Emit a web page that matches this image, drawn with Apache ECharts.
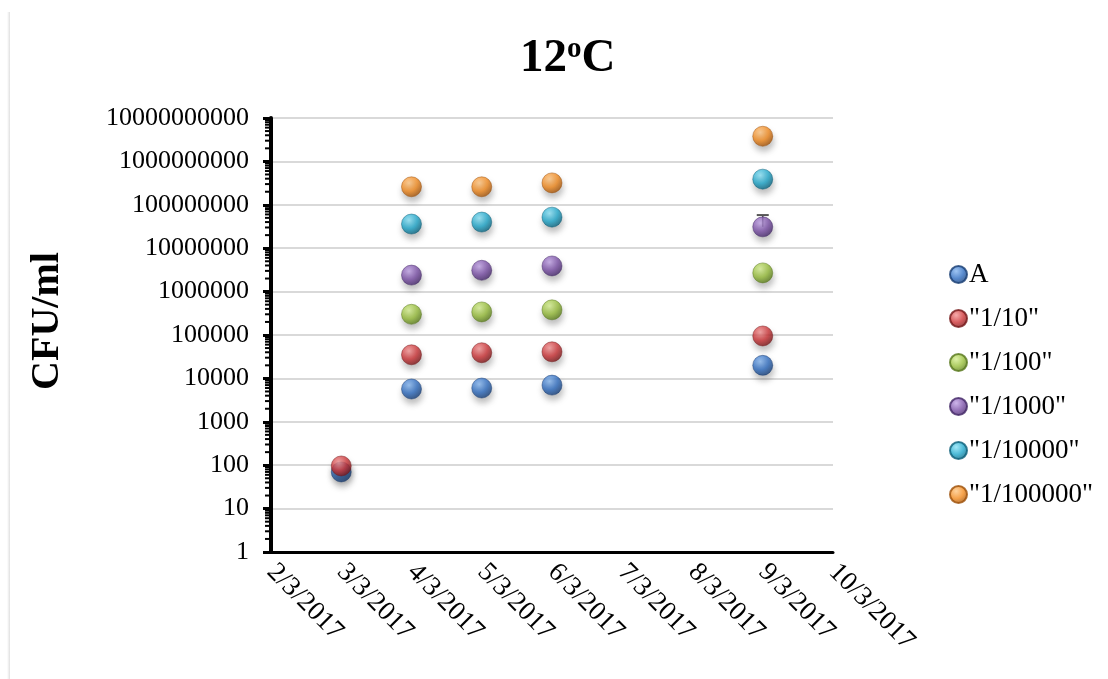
<!DOCTYPE html>
<html>
<head>
<meta charset="utf-8">
<script src="https://cdn.jsdelivr.net/npm/echarts@6/dist/echarts.min.js"></script>
<style>html,body{margin:0;padding:0;background:#fff}#c{width:1108px;height:679px}</style>
</head>
<body>
<div id="c"></div>
<script>
// ---- data ----
var dates = ['3/3/2017', '4/3/2017', '5/3/2017', '6/3/2017', '9/3/2017'];
var seriesNames = ['A', '"1/10"', '"1/100"', '"1/1000"', '"1/10000"', '"1/100000"'];
var valA       = [70, 5700, 6000, 7000, 20000];
var val10      = [96, 35000, 39000, 41000, 95000];
var val100     = [null, 300000, 340000, 380000, 2700000];
var val1000    = [null, 2400000, 3100000, 3900000, 31000000];
var val10000   = [null, 36000000, 40000000, 52000000, 390000000];
var val100000  = [null, 260000000, 260000000, 320000000, 3800000000];
// error bar (upper) for "1/1000" at 9/3/2017
var errDate = '9/3/2017';
var errValue = 31000000;
var errTop = 58000000;
var xMinDay = 2, xMaxDay = 10; // axis from 2/3/2017 to 10/3/2017
var yMin = 1, yMax = 10000000000;
var yTitle = 'CFU/ml';

var allValues = [valA, val10, val100, val1000, val10000, val100000];
var palette = [
  ['#86b6f0', '#2e6cc0', '#173c72'],
  ['#f49595', '#cc3336', '#741618'],
  ['#d6ef91', '#97bd3a', '#56771a'],
  ['#c0a2e6', '#7a4fa6', '#412565'],
  ['#8be2f6', '#1fa7cb', '#0b5f79'],
  ['#ffc784', '#f28a1e', '#9c4f08']
];
function dayOf(s) { return parseInt(s.split('/')[0], 10); }
function ball(p) {
  return {
    color: {
      type: 'radial', x: 0.38, y: 0.32, r: 0.72,
      colorStops: [{offset: 0, color: p[0]}, {offset: 0.55, color: p[1]}, {offset: 1, color: p[2]}]
    },
    borderColor: p[2], borderWidth: 0.6,
    shadowBlur: 6, shadowOffsetX: 1, shadowOffsetY: 5, shadowColor: 'rgba(0,0,0,0.32)'
  };
}
var font = 'Liberation Serif';
var series = [];
allValues.forEach(function (vals, i) {
  var d = [];
  vals.forEach(function (v, j) { if (v != null) d.push([dayOf(dates[j]), v]); });
  series.push({
    name: seriesNames[i], type: 'scatter', data: d, symbol: 'circle', symbolSize: 20,
    itemStyle: ball(palette[i]), z: 5 + i, emphasis: {disabled: true}
  });
});
// minor log ticks on y axis
var minor = [];
for (var n = 0; n < 10; n++) for (var k = 2; k <= 9; k++) minor.push([xMinDay, k * Math.pow(10, n)]);
series.push({
  type: 'custom', data: minor, silent: true, z: 3, clip: false,
  renderItem: function (params, api) {
    var p = api.coord([api.value(0), api.value(1)]);
    return {type: 'line', shape: {x1: p[0] - 6, y1: p[1], x2: p[0], y2: p[1]},
            style: {stroke: '#000', lineWidth: 2}};
  }
});
series.push({
  type: 'custom', data: [[dayOf(errDate), errValue, errTop]], silent: true, z: 4, clip: false,
  renderItem: function (params, api) {
    var a = api.coord([api.value(0), api.value(1)]);
    var b = api.coord([api.value(0), api.value(2)]);
    return {type: 'group', children: [
      {type: 'line', shape: {x1: a[0], y1: a[1], x2: b[0], y2: b[1]}, style: {stroke: '#555', lineWidth: 1.5}},
      {type: 'line', shape: {x1: b[0] - 6, y1: b[1], x2: b[0] + 6, y2: b[1]}, style: {stroke: '#555', lineWidth: 2}}
    ]};
  }
});

var chart = echarts.init(document.getElementById('c'), null, {renderer: 'canvas'});
chart.setOption({
  backgroundColor: '#fff',
  animation: false,
  title: {
    text: '12{s|o}C', left: 515, top: 30,
    textStyle: {
      fontFamily: font, fontWeight: 'bold', fontSize: 47, color: '#000',
      rich: {s: {fontFamily: font, fontWeight: 'bold', fontSize: 29, color: '#000', verticalAlign: 'top', padding: [0, 0, 16, 0]}}
    }
  },
  legend: {
    data: seriesNames, orient: 'vertical', left: 944, top: 256,
    icon: 'circle', itemWidth: 17, itemHeight: 17, itemGap: 17,
    textStyle: {fontFamily: font, fontSize: 27, color: '#000', padding: [0, 0, 0, -3], lineHeight: 26}
  },
  grid: {left: 271, right: 275, top: 118, bottom: 127, containLabel: false},
  xAxis: {
    type: 'value', min: xMinDay, max: xMaxDay, interval: 1,
    axisLine: {show: true, lineStyle: {color: '#000', width: 3}},
    axisTick: {show: false},
    splitLine: {show: false},
    axisLabel: {
      rotate: -45, margin: 16, fontFamily: font, fontSize: 27, color: '#000',
      formatter: function (v) { return v + '/3/2017'; }
    }
  },
  yAxis: {
    type: 'log', logBase: 10, min: yMin, max: yMax, interval: 1,
    axisLine: {show: true, lineStyle: {color: '#000', width: 4}},
    axisTick: {show: true, length: 8, lineStyle: {color: '#000', width: 3}},
    splitLine: {show: true, lineStyle: {color: '#d9d9d9', width: 2}},
    axisLabel: {
      margin: 22, fontFamily: font, fontSize: 26, color: '#000',
      formatter: function (v) { return Math.round(v).toFixed(0); }
    }
  },
  graphic: [{
    type: 'rect', left: 7, top: 12, shape: {width: 3, height: 667},
    style: {fill: {type: 'linear', x: 0, y: 0, x2: 1, y2: 0, colorStops: [{offset: 0, color: 'rgba(0,0,0,0)'}, {offset: 1, color: 'rgba(0,0,0,0.12)'}]}},
    silent: true
  }, {
    type: 'text', x: 48, y: 321, rotation: Math.PI / 2,
    style: {text: yTitle, fontFamily: font, fontWeight: 'bold', fontSize: 40, fill: '#000', align: 'center', verticalAlign: 'middle'},
    silent: true
  }],
  series: series
});
</script>
</body>
</html>
